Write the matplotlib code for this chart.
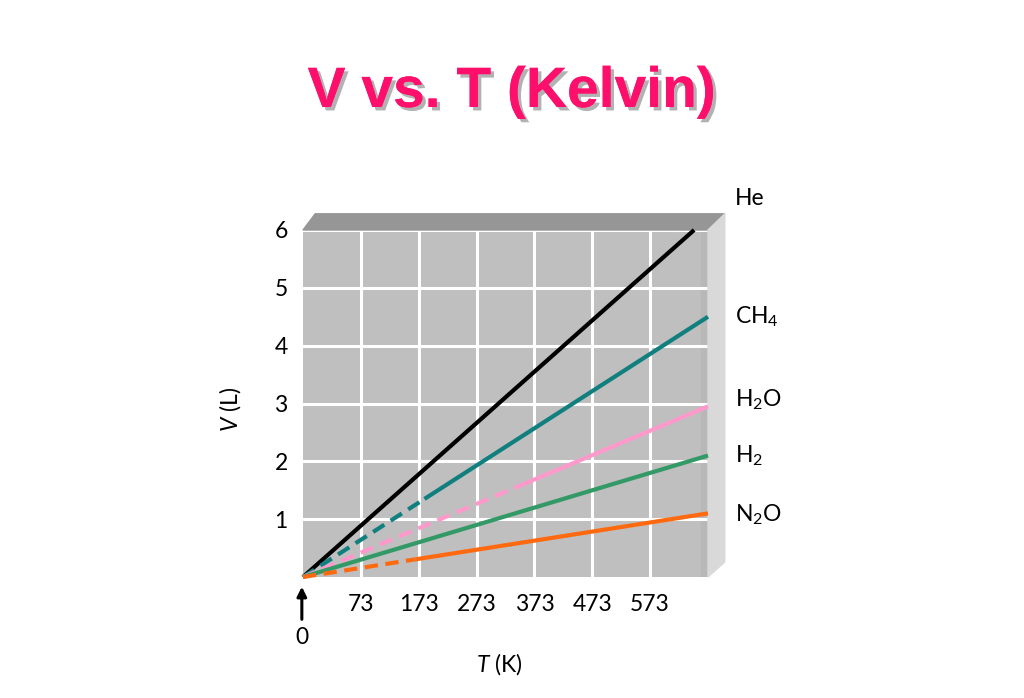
import matplotlib
matplotlib.use("Agg")
import matplotlib.pyplot as plt
import matplotlib.patheffects as pe
import numpy as np

plt.rcParams["font.family"] = ["Lato", "DejaVu Sans"]
plt.rcParams["mathtext.fontset"] = "custom"
plt.rcParams["mathtext.rm"] = "Lato"
plt.rcParams["mathtext.it"] = "Lato:italic"

# data (x in chart units: grid every 100, labelled 73, 173, ...)
gases = ["He", "CH$_4$", "H$_2$O", "H$_2$", "N$_2$O"]
colors = ["#000000", "#127f7f", "#ff99cc", "#339966", "#ff6a10"]
x_end = [676, 700, 700, 700, 700]
v_end = [6.0, 4.5, 2.95, 2.1, 1.1]
x_solid_from = [0, 210, 374, 0, 193]   # dashed (extrapolated) below this
label_v = [6.55, 4.5, 3.06, 2.1, 1.08]

x_ticks = [100, 200, 300, 400, 500, 600]
x_tick_labels = ["73", "173", "273", "373", "473", "573"]
y_ticks = [1, 2, 3, 4, 5, 6]

fig = plt.figure(figsize=(10.24, 6.98), dpi=100)
ax = fig.add_axes([303 / 1024, (698 - 577) / 698, 405 / 1024, 347 / 698])
ax.set_xlim(0, 700)
ax.set_ylim(0, 6)
ax.set_facecolor("#bfbfbf")
for s in ax.spines.values():
    s.set_visible(False)

ax.set_xticks(x_ticks)
ax.set_xticklabels(x_tick_labels, fontsize=16.5)
ax.set_yticks(y_ticks)
ax.set_yticklabels([str(v) for v in y_ticks], fontsize=16.5)
ax.tick_params(length=0, pad=11)
ax.tick_params(axis="x", pad=12)
ax.grid(True, color="white", linewidth=2.2)
ax.set_axisbelow(True)

# 3d box faces
dx, dy = 29, 0.28
ax.fill([0, 700, 700 + dx, 21], [6, 6, 6 + dy, 6 + dy], color="#969696",
        clip_on=False, zorder=1)
ax.fill([700, 700 + dx, 700 + dx, 700], [6, 6 + dy, 0.26, 0], color="#d9d9d9",
        clip_on=False, zorder=1)
ax.fill([688, 700, 700, 688], [0, 0, 6, 6], color="#b8b8b8", zorder=0.5)

for name, c, xe, ve, xs, lv in zip(gases, colors, x_end, v_end, x_solid_from, label_v):
    slope = ve / xe
    if xs > 0:
        ax.plot([0, xs], [0, slope * xs], color=c, lw=3, ls=(0, (3.2, 1.8)),
                solid_capstyle="butt", clip_on=False, zorder=3)
    ax.plot([xs, xe], [slope * xs, ve], color=c, lw=3,
            solid_capstyle="butt", clip_on=False, zorder=3)
    ax.text(747, lv, name, fontsize=16.5, ha="left", va="center", clip_on=False)

# zero marker
ax.annotate("", xy=(-2, -0.12), xytext=(-2, -0.78),
            arrowprops=dict(arrowstyle="-|>", color="black", lw=2.2,
                            mutation_scale=14), annotation_clip=False)
ax.text(-2, -1.04, "0", fontsize=16.5, ha="center", va="center")

ax.text(340, -1.5, "$T$ (K)", fontsize=16.5, ha="center", va="center")
ax.text(-126, 2.9, "$V$ (L)", fontsize=16.5, ha="center", va="center", rotation=90)

fig.text(0.5, (698 - 107) / 698, "V vs. T (Kelvin)", fontsize=41,
         fontweight="bold", family="Liberation Sans", color="#fe0f6b",
         ha="center", va="baseline",
         path_effects=[pe.withSimplePatchShadow(offset=(2.5, -2.5),
                                                shadow_rgbFace="#808080",
                                                alpha=0.6), pe.Normal()])

fig.savefig("out.png", dpi=100)
